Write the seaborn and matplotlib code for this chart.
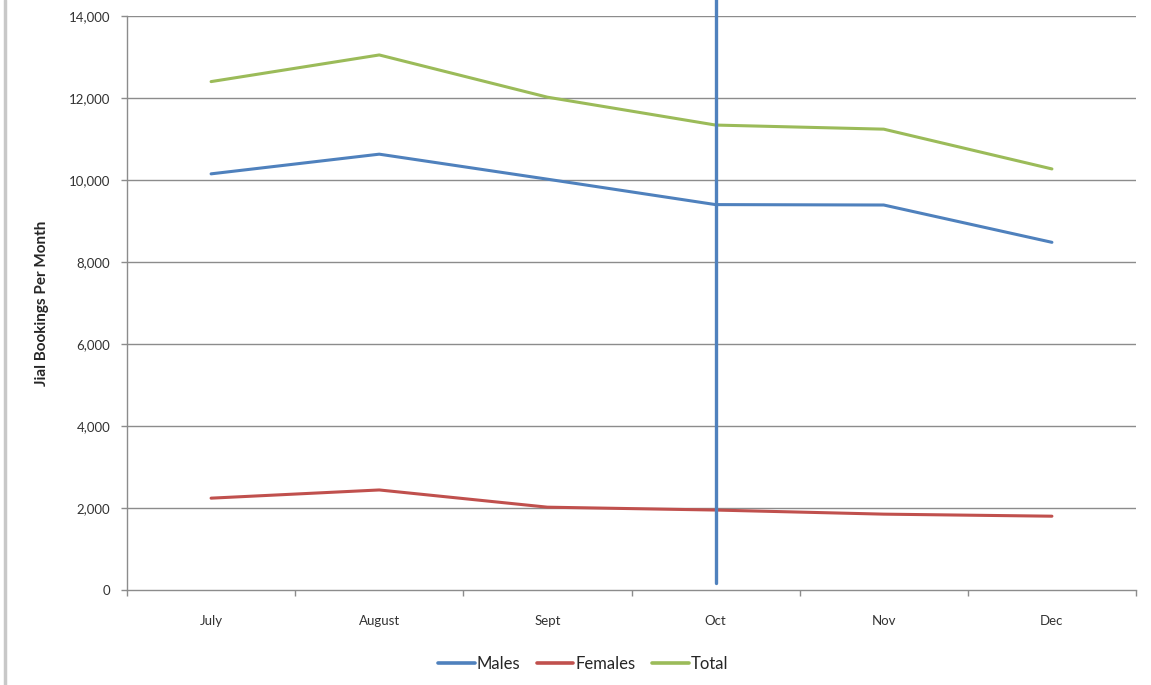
import matplotlib
matplotlib.use("Agg")
import matplotlib.pyplot as plt
import matplotlib.lines as mlines
import seaborn as sns
import pandas as pd

months = ["July", "August", "Sept", "Oct", "Nov", "Dec"]
males = [10150, 10630, 10020, 9400, 9390, 8480]
females = [2240, 2440, 2020, 1950, 1850, 1800]
total = [12400, 13050, 12020, 11340, 11240, 10270]
series_names = ["Males", "Females", "Total"]
colors = ["#4F81BD", "#C0504D", "#9BBB59"]
# stray vertical stroke of the Males series at Oct
spike_month = "Oct"
spike_values = [170, 15000]
yticks = [0, 2000, 4000, 6000, 8000, 10000, 12000, 14000]

sns.set_style("white")
plt.rcParams["font.family"] = ["Lato", "DejaVu Sans"]

rows = []
for name, vals in zip(series_names, [males, females, total]):
    for i, (m, v) in enumerate(zip(months, vals)):
        rows.append({"pos": i, "month": m, "value": v, "series": name})
df = pd.DataFrame(rows)

fig = plt.figure(figsize=(11.51, 6.85), dpi=100)
ax = fig.add_axes([127/1151, 1-590/685, (1136-127)/1151, (590-16)/685])

for y in yticks[1:]:
    ax.axhline(y, color="#8c8c8c", lw=1.0, zorder=0)

sns.lineplot(data=df, x="pos", y="value", hue="series", hue_order=series_names,
             palette=colors, linewidth=2.2, sort=False, estimator=None,
             legend=False, ax=ax)

sp = months.index(spike_month)
sns.lineplot(x=[sp, sp], y=spike_values, color=colors[0], linewidth=2.4,
             estimator=None, sort=False, ax=ax, legend=False)
for l in ax.lines[-1:]:
    l.set_clip_on(False)

ax.set_xlim(-0.5, len(months) - 0.5)
ax.set_ylim(0, 14000)
ax.set_yticks(yticks)
ax.set_yticklabels([f"{v:,}" for v in yticks], fontsize=9.5, color="#333333")
ax.set_xticks(range(len(months)))
ax.set_xticklabels(months, fontsize=9.5, color="#333333")
ax.tick_params(axis="x", length=0, pad=18)
ax.tick_params(axis="y", length=4, width=1, color="#8c8c8c", direction="out", pad=8, left=True)
# minor ticks at category boundaries
ax.set_xticks([i - 0.5 for i in range(len(months) + 1)], minor=True)
ax.tick_params(axis="x", which="minor", length=4, width=1, color="#8c8c8c", direction="out", bottom=True)

for s in ["top", "right"]:
    ax.spines[s].set_visible(False)
for s in ["left", "bottom"]:
    ax.spines[s].set_color("#8c8c8c")
    ax.spines[s].set_linewidth(1.0)

ax.set_xlabel("")
ax.set_ylabel("Jial Bookings Per Month", fontsize=11, fontweight="bold", labelpad=14)

handles = [mlines.Line2D([], [], color=c, lw=2.6) for c in colors]
fig.legend(handles, series_names, loc="center", bbox_to_anchor=(583/1151, 1-664/685),
           ncol=3, frameon=False, fontsize=12, handlelength=2.2, handletextpad=0.1,
           columnspacing=1.0)

fig.add_artist(mlines.Line2D([5/1151, 5/1151], [0, 1], color="#c8c8c8", lw=2.5,
                             transform=fig.transFigure))

fig.savefig("out.png", dpi=100, facecolor="white")
